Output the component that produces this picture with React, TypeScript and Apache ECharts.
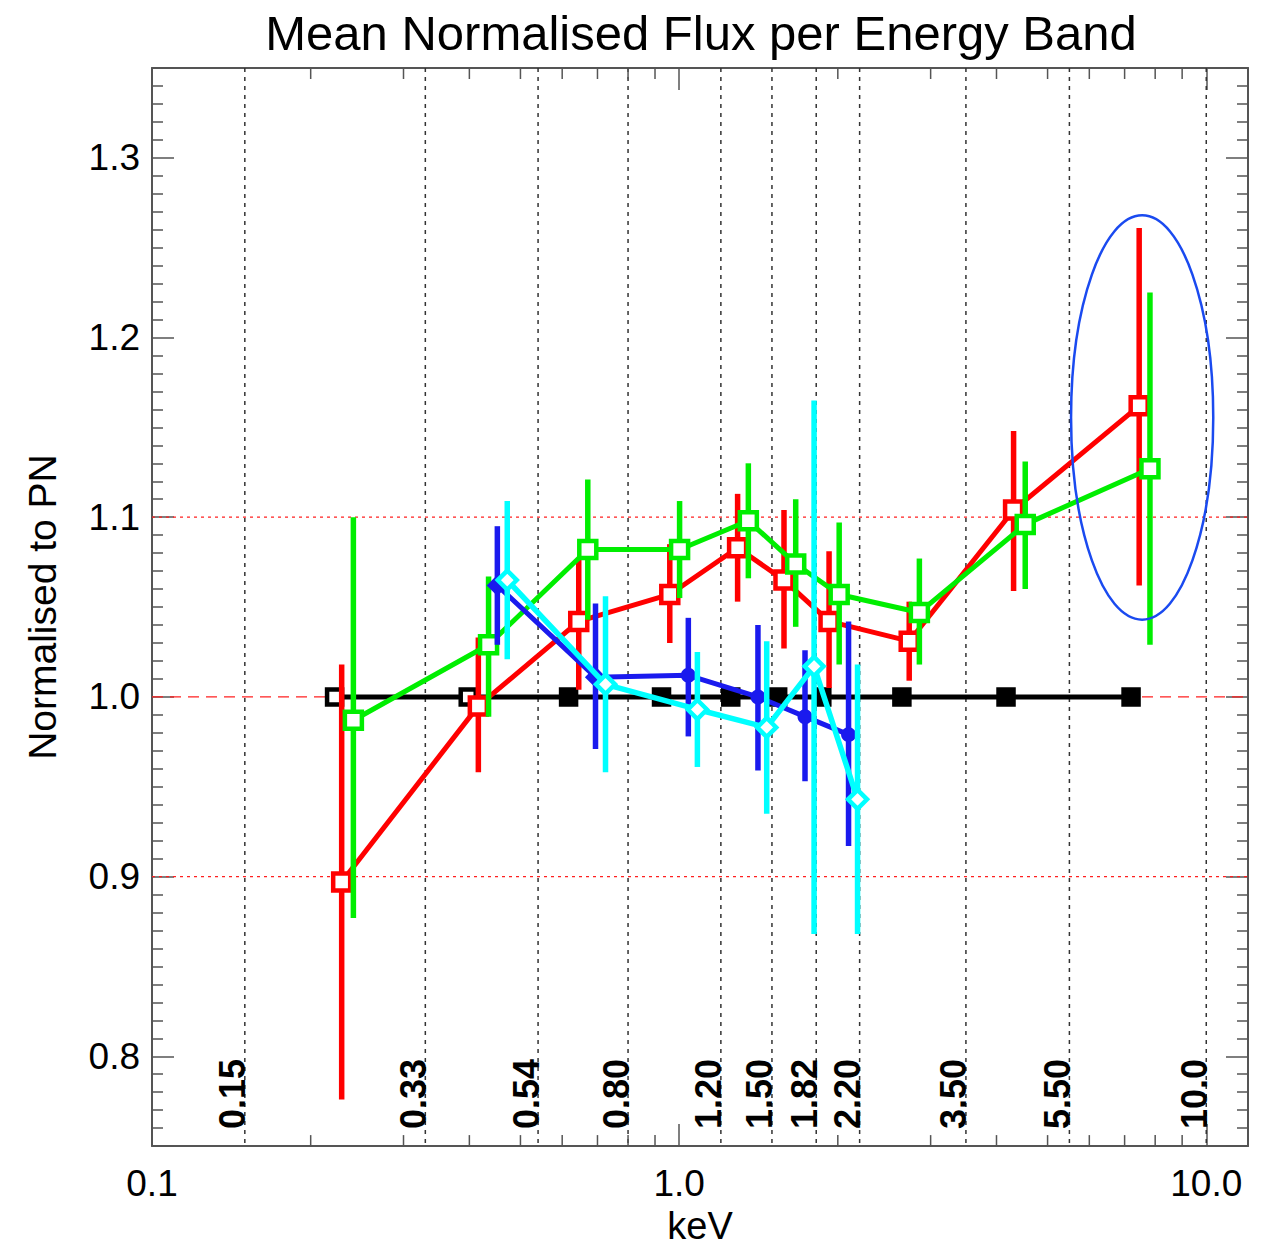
import React, { useEffect, useRef } from 'react';
import * as echarts from 'echarts';

// ---- axis extents ----
const X_MIN = 0.1;
const X_MAX = 12;
const Y_MIN = 0.75;
const Y_MAX = 1.35;

// ---- energy band boundaries (vertical dotted lines) ----
const bandEdges = [0.15, 0.33, 0.54, 0.8, 1.2, 1.5, 1.82, 2.2, 3.5, 5.5, 10.0];
const bandLabels = ['0.15', '0.33', '0.54', '0.80', '1.20', '1.50', '1.82', '2.20', '3.50', '5.50', '10.0'];
const minorTickValues = [0.2, 0.3, 0.4, 0.5, 0.6, 0.7, 0.8, 0.9, 2, 3, 4, 5, 6, 7, 8, 9];
const refLevels = [0.9, 1.0, 1.1];

// ---- PN reference (black) ----
const blackX = [0.222, 0.398, 0.617, 0.926, 1.253, 1.538, 1.865, 2.646, 4.17, 7.2];
const blackY = [1, 1, 1, 1, 1, 1, 1, 1, 1, 1];

// ---- red ----
const redX = [0.229, 0.416, 0.645, 0.96, 1.291, 1.581, 1.925, 2.732, 4.31, 7.46];
const redY = [0.897, 0.995, 1.042, 1.057, 1.083, 1.065, 1.042, 1.031, 1.104, 1.162];
const redLo = [0.776, 0.958, 1.004, 1.03, 1.053, 1.027, 1.005, 1.009, 1.059, 1.062];
const redHi = [1.018, 1.033, 1.077, 1.085, 1.113, 1.104, 1.081, 1.053, 1.148, 1.261];

// ---- green ----
const greenX = [0.241, 0.435, 0.671, 1.002, 1.353, 1.664, 2.012, 2.856, 4.535, 7.82];
const greenY = [0.987, 1.029, 1.082, 1.082, 1.098, 1.074, 1.057, 1.047, 1.096, 1.127];
const greenLo = [0.877, 0.989, 1.043, 1.055, 1.066, 1.039, 1.018, 1.018, 1.06, 1.029];
const greenHi = [1.1, 1.067, 1.121, 1.109, 1.13, 1.11, 1.097, 1.077, 1.131, 1.225];

// ---- blue ----
const blueX = [0.452, 0.694, 1.041, 1.411, 1.733, 2.096];
const blueY = [1.062, 1.011, 1.012, 1.0, 0.989, 0.979];
const blueLo = [1.029, 0.971, 0.978, 0.959, 0.953, 0.917];
const blueHi = [1.095, 1.052, 1.044, 1.04, 1.026, 1.042];

// ---- cyan ----
const cyanX = [0.472, 0.725, 1.083, 1.466, 1.803, 2.18];
const cyanY = [1.065, 1.007, 0.993, 0.983, 1.017, 0.943];
const cyanLo = [1.021, 0.958, 0.961, 0.935, 0.868, 0.868];
const cyanHi = [1.109, 1.056, 1.025, 1.031, 1.165, 1.018];

// ---- highlighted region (ellipse) ----
const highlightX = [5.54, 10.31];
const highlightY = [1.043, 1.268];

const FONT = 'Liberation Sans, Arial, Helvetica, sans-serif';
const AXIS_COLOR = '#555';
const W = 1272;
const H = 1250;

function errorBarSeries(xs: number[], lo: number[], hi: number[], color: string, z: number) {
  return {
    type: 'custom',
    coordinateSystem: 'cartesian2d',
    silent: true,
    z,
    encode: { x: 0, y: [1, 2] },
    data: xs.map((x, i) => [x, lo[i], hi[i]]),
    renderItem: (params: any, api: any) => {
      const x = api.value(0);
      const p1 = api.coord([x, api.value(1)]);
      const p2 = api.coord([x, api.value(2)]);
      return {
        type: 'line',
        shape: { x1: p1[0], y1: p1[1], x2: p2[0], y2: p2[1] },
        style: { stroke: color, lineWidth: 5.5 },
      };
    },
  };
}

export default function App() {
  const ref = useRef<HTMLDivElement>(null);

  useEffect(() => {
    if (!ref.current) return;
    const chart = echarts.init(ref.current, null, { renderer: 'svg', width: W, height: H });

    const xLabelFmt = (v: number) => {
      const l = Math.log10(v);
      if (Math.abs(l - Math.round(l)) < 1e-6 && v < 11) return v < 1 ? '0.1' : v.toFixed(1);
      return '';
    };
    const yLabelFmt = (v: number) => {
      const r = Math.round(v * 10) / 10;
      if (Math.abs(v - r) < 1e-6 && v > 0.76 && v < 1.34) return r.toFixed(1);
      return '';
    };

    const option: any = {
      animation: false,
      backgroundColor: '#fff',
      textStyle: { fontFamily: FONT },
      graphic: [
        {
          type: 'text',
          x: 701,
          y: 33,
          style: {
            text: 'Mean Normalised Flux per Energy Band',
            align: 'center',
            verticalAlign: 'middle',
            fontSize: 49,
            fontFamily: FONT,
            fill: '#000',
          },
        },
      ],
      grid: { left: 152, right: 24, top: 68, bottom: 99, containLabel: false },
      xAxis: [
        {
          type: 'log',
          logBase: 10,
          min: X_MIN,
          max: X_MAX,
          position: 'bottom',
          name: 'keV',
          nameLocation: 'middle',
          nameGap: 59,
          nameTextStyle: { fontSize: 38, color: '#000', fontFamily: FONT },
          axisLine: { show: true, lineStyle: { color: AXIS_COLOR, width: 2 } },
          axisTick: { show: true, inside: true, length: 22, lineStyle: { color: AXIS_COLOR, width: 1.5 } },
          axisLabel: { formatter: xLabelFmt, fontSize: 37, color: '#000', margin: 19, fontFamily: FONT, showMaxLabel: true, showMinLabel: true },
          splitLine: { show: false },
        },
        {
          type: 'log',
          logBase: 10,
          min: X_MIN,
          max: X_MAX,
          position: 'top',
          axisLine: { show: true, lineStyle: { color: AXIS_COLOR, width: 2 } },
          axisTick: { show: true, inside: true, length: 22, lineStyle: { color: AXIS_COLOR, width: 1.5 } },
          axisLabel: { show: false },
          splitLine: { show: false },
        },
      ],
      yAxis: [
        {
          type: 'value',
          min: Y_MIN,
          max: Y_MAX,
          position: 'left',
          name: 'Normalised to PN',
          nameLocation: 'middle',
          nameGap: 90,
          nameTextStyle: { fontSize: 39, color: '#000', fontFamily: FONT },
          axisLine: { show: true, lineStyle: { color: AXIS_COLOR, width: 2 } },
          axisTick: { show: true, inside: true, length: 22, lineStyle: { color: AXIS_COLOR, width: 1.5 } },
          minorTick: { show: true, splitNumber: 10, length: 11, lineStyle: { color: AXIS_COLOR, width: 1.5 } },
          axisLabel: { formatter: yLabelFmt, fontSize: 37, color: '#000', margin: 12, fontFamily: FONT },
          splitLine: { show: false },
        },
        {
          type: 'value',
          min: Y_MIN,
          max: Y_MAX,
          position: 'right',
          axisLine: { show: true, lineStyle: { color: AXIS_COLOR, width: 2 } },
          axisTick: { show: true, inside: true, length: 22, lineStyle: { color: AXIS_COLOR, width: 1.5 } },
          minorTick: { show: true, splitNumber: 10, length: 11, lineStyle: { color: AXIS_COLOR, width: 1.5 } },
          axisLabel: { show: false },
          splitLine: { show: false },
        },
      ],
      series: [
        // vertical band boundaries with rotated labels
        {
          type: 'custom',
          coordinateSystem: 'cartesian2d',
          silent: true,
          z: 1,
          encode: { x: 0, y: 1 },
          data: bandEdges.map((v) => [v, Y_MIN]),
          renderItem: (params: any, api: any) => {
            const x = api.value(0);
            const top = api.coord([x, Y_MAX]);
            const bot = api.coord([x, Y_MIN]);
            return {
              type: 'group',
              children: [
                {
                  type: 'line',
                  shape: { x1: top[0], y1: top[1], x2: bot[0], y2: bot[1] },
                  style: { stroke: '#333', lineWidth: 1.5, lineDash: [4, 5] },
                },
                {
                  type: 'text',
                  x: bot[0] - 12,
                  y: bot[1] - 17,
                  rotation: Math.PI / 2,
                  style: {
                    text: bandLabels[params.dataIndex],
                    align: 'left',
                    verticalAlign: 'middle',
                    fontSize: 36,
                    fontWeight: 'bold',
                    fontFamily: FONT,
                    fill: '#000',
                  },
                },
              ],
            };
          },
        },
        // horizontal reference levels
        {
          type: 'custom',
          coordinateSystem: 'cartesian2d',
          silent: true,
          z: 1,
          encode: { x: 0, y: 1 },
          data: refLevels.map((y) => [X_MIN, y]),
          renderItem: (params: any, api: any) => {
            const y = api.value(1);
            const a = api.coord([X_MIN, y]);
            const b = api.coord([X_MAX, y]);
            const isUnity = Math.abs(y - 1) < 1e-9;
            return {
              type: 'line',
              shape: { x1: a[0], y1: a[1], x2: b[0], y2: b[1] },
              style: { stroke: '#ff2020', lineWidth: 1.2, lineDash: isUnity ? [11, 7] : [3, 4] },
            };
          },
        },
        // minor log ticks on bottom and top axes
        {
          type: 'custom',
          coordinateSystem: 'cartesian2d',
          silent: true,
          z: 1,
          encode: { x: 0, y: 1 },
          data: minorTickValues.map((v) => [v, Y_MIN]),
          renderItem: (params: any, api: any) => {
            const x = api.value(0);
            const bot = api.coord([x, Y_MIN]);
            const top = api.coord([x, Y_MAX]);
            const st = { stroke: AXIS_COLOR, lineWidth: 1.5 };
            return {
              type: 'group',
              children: [
                { type: 'line', shape: { x1: bot[0], y1: bot[1], x2: bot[0], y2: bot[1] - 11 }, style: st },
                { type: 'line', shape: { x1: top[0], y1: top[1], x2: top[0], y2: top[1] + 11 }, style: st },
              ],
            };
          },
        },
        // black reference
        {
          type: 'line',
          silent: true,
          z: 2,
          data: blackX.map((x, i) => ({
            value: [x, blackY[i]],
            itemStyle: i < 2 ? { color: '#fff', borderColor: '#000', borderWidth: 4.5 } : { color: '#000', borderColor: '#000', borderWidth: 4.5 },
          })),
          symbol: 'rect',
          symbolSize: 15,
          lineStyle: { color: '#000', width: 5 },
        },
        // red
        errorBarSeries(redX, redLo, redHi, '#ff0000', 3),
        {
          type: 'line',
          silent: true,
          z: 3,
          data: redX.map((x, i) => [x, redY[i]]),
          symbol: 'rect',
          symbolSize: 17,
          lineStyle: { color: '#ff0000', width: 5 },
          itemStyle: { color: '#fff', borderColor: '#ff0000', borderWidth: 4.5 },
        },
        // green
        errorBarSeries(greenX, greenLo, greenHi, '#00ee00', 4),
        {
          type: 'line',
          silent: true,
          z: 4,
          data: greenX.map((x, i) => [x, greenY[i]]),
          symbol: 'rect',
          symbolSize: 17,
          lineStyle: { color: '#00ee00', width: 5 },
          itemStyle: { color: '#fff', borderColor: '#00ee00', borderWidth: 4.5 },
        },
        // blue
        errorBarSeries(blueX, blueLo, blueHi, '#1a1aee', 5),
        {
          type: 'line',
          silent: true,
          z: 5,
          data: blueX.map((x, i) => ({
            value: [x, blueY[i]],
            symbol: i < 2 ? 'diamond' : 'circle',
            symbolSize: i < 2 ? 17 : 15,
            itemStyle: i < 2 ? { color: '#1a1aee', borderColor: '#1a1aee', borderWidth: 3 } : { color: '#1a1aee' },
          })),
          lineStyle: { color: '#1a1aee', width: 5 },
        },
        // cyan
        errorBarSeries(cyanX, cyanLo, cyanHi, '#00ffff', 6),
        {
          type: 'line',
          silent: true,
          z: 6,
          data: cyanX.map((x, i) => [x, cyanY[i]]),
          symbol: 'diamond',
          symbolSize: 19,
          lineStyle: { color: '#00ffff', width: 5.5 },
          itemStyle: { color: '#fff', borderColor: '#00ffff', borderWidth: 4.5 },
        },
        // highlight ellipse
        {
          type: 'custom',
          coordinateSystem: 'cartesian2d',
          silent: true,
          z: 7,
          encode: { x: [0, 2], y: [1, 3] },
          data: [[highlightX[0], highlightY[0], highlightX[1], highlightY[1]]],
          renderItem: (params: any, api: any) => {
            const a = api.coord([api.value(0), api.value(1)]);
            const b = api.coord([api.value(2), api.value(3)]);
            return {
              type: 'ellipse',
              shape: { cx: (a[0] + b[0]) / 2, cy: (a[1] + b[1]) / 2, rx: Math.abs(b[0] - a[0]) / 2, ry: Math.abs(b[1] - a[1]) / 2 },
              style: { fill: 'none', stroke: '#1a4af0', lineWidth: 2.5 },
            };
          },
        },
      ],
    };

    chart.setOption(option);
    return () => chart.dispose();
  }, []);

  return (
    <div
      ref={ref}
      style={{ position: 'fixed', left: 0, top: 0, width: W, height: H, background: '#fff' }}
    />
  );
}
